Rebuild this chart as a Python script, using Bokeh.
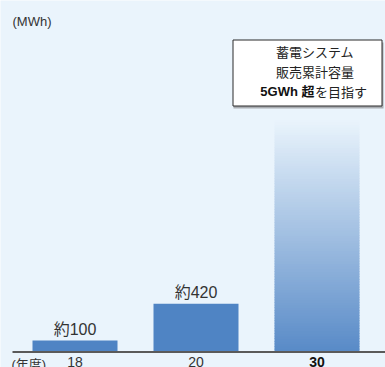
from bokeh.plotting import figure
from bokeh.models import Range1d
from bokeh.core.properties import value
from bokeh.embed import file_html
from bokeh.resources import INLINE

# --- data -------------------------------------------------------------
years = ["18", "20", "30"]
year_pos = [0, 1, 2]
capacity_mwh = [100, 420, 5000]          # cumulative storage sales, MWh
value_labels = ["約100", "約420"]          # labels for the measured years
target_lines = ["蓄電システム", "販売累計容量"]
target_bold = "5GWh 超"
target_rest = "を目指す"
unit_label = "(MWh)"
year_unit_label = "(年度)"

# --- styling ----------------------------------------------------------
BG = "#eaf4fc"
BAR = "#4f84c4"
TEXT = "#333333"
FONT = "'Liberation Sans', 'Noto Sans CJK JP'"
CJK = "Noto Sans CJK JP"
W, H = 385, 367

# pixel geometry of the frame: x unit spacing and baseline position
X0_PX, X_SCALE = 74.5, 121.0      # category 0 centre, px per category
Y0_PX, Y_SCALE = 351.5, 0.115     # baseline, px per MWh


def sx(px):
    return (px - X0_PX) / X_SCALE


def sy(py):
    return (Y0_PX - py) / Y_SCALE


p = figure(width=W, height=H, output_backend="svg", toolbar_location=None,
           min_border=0, x_range=Range1d(sx(0), sx(W)), y_range=Range1d(sy(H), sy(0)))
p.axis.visible = False
p.grid.visible = False
p.outline_line_color = None
p.background_fill_color = BG
p.border_fill_color = BG

bar_w = 85 / X_SCALE

# measured years: solid bars
p.vbar(x=year_pos[:2], top=capacity_mwh[:2], width=bar_w, bottom=0,
       fill_color=BAR, line_color=None)

# target year: open-ended bar fading out towards the top of the chart
open_top = sy(119)
shown_top = min(capacity_mwh[2], open_top)
n = 90
c0 = (88, 138, 199)
c1 = (234, 244, 252)
bottoms, tops, colors = [], [], []
for i in range(n):
    b = shown_top * i / n
    t = shown_top * (i + 1.3) / n
    f = (i + 0.5) / n
    rgb = tuple(int(round(a + (bb - a) * f)) for a, bb in zip(c0, c1))
    bottoms.append(b)
    tops.append(min(t, shown_top))
    colors.append("#%02x%02x%02x" % rgb)
p.vbar(x=[year_pos[2]] * n, bottom=bottoms, top=tops,
       width=bar_w, fill_color=colors, line_color=None)

# baseline
p.segment(x0=[sx(12)], y0=[0], x1=[sx(W)], y1=[0], line_color="#5a5a5a", line_width=2)

# value labels above the measured bars
p.text(x=year_pos[:2], y=capacity_mwh[:2], text=value_labels, text_align="center",
       text_baseline="bottom", y_offset=-3, text_font=value(FONT),
       text_font_size="16px", text_color=TEXT)

# year labels under the baseline
p.text(x=year_pos[:2], y=[0, 0], text=years[:2], text_align="center",
       text_baseline="top", y_offset=5, text_font=value(FONT),
       text_font_size="14px", text_color=TEXT)
p.text(x=[year_pos[2]], y=[0], text=[years[2]], text_align="center",
       text_baseline="top", y_offset=5, text_font=value(FONT),
       text_font_size="14px", text_font_style="bold", text_color="#111111")
p.text(x=[sx(11)], y=[0], text=[year_unit_label], text_align="left",
       text_baseline="top", y_offset=5, text_font=value(FONT),
       text_font_size="13px", text_color=TEXT)

# unit label
p.text(x=[sx(12)], y=[sy(21)], text=[unit_label], text_align="left",
       text_baseline="middle", text_font=value(FONT),
       text_font_size="13px", text_color=TEXT)

# target call-out box with a soft shadow
p.quad(left=[sx(233)], right=[sx(383)], top=[sy(42)], bottom=[sy(108)],
       fill_color="#a9adb2", line_color=None)
p.quad(left=[sx(232.5)], right=[sx(381.5)], top=[sy(39.5)], bottom=[sy(105.5)],
       fill_color="white", line_color="#2a2a2a", line_width=1)
p.text(x=[sx(314.5)] * 2, y=[sy(51), sy(71)], text=target_lines, text_align="center",
       text_baseline="middle", text_font=value(CJK), text_font_size="13px",
       text_color="#222222")
p.text(x=[sx(314)], y=[sy(91)], text=[target_bold], text_align="right",
       text_baseline="middle", text_font=value(FONT), text_font_size="13px",
       text_font_style="bold", text_color="#111111")
p.text(x=[sx(314.5)], y=[sy(91)], text=[target_rest], text_align="left",
       text_baseline="middle", text_font=value(CJK), text_font_size="13px",
       text_color="#222222")

open("out.html", "w").write(file_html(p, INLINE))
